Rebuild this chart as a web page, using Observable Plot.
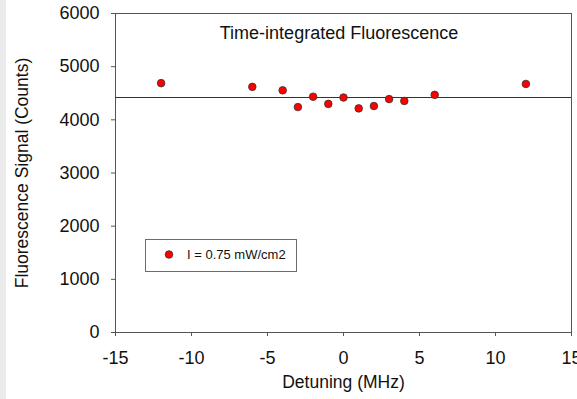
<!DOCTYPE html>
<html>
<head>
<meta charset="utf-8">
<script src="https://cdn.jsdelivr.net/npm/d3@7"></script>
<script src="https://cdn.jsdelivr.net/npm/@observablehq/plot@0.6"></script>
<style>
  html, body { margin: 0; padding: 0; background: #fff; }
  #wrap { position: relative; width: 577px; height: 399px; overflow: hidden; font-family: "Liberation Sans", Arial, sans-serif; }
  #strip { position: absolute; left: 0; top: 0; width: 6px; height: 399px; background: #ebebeb; }
  #legend { position: absolute; left: 145px; top: 239px; width: 150px; height: 31px; border: 1px solid #6b6b6b; background: #fff; box-sizing: content-box; }
  #legend svg { position: absolute; left: 0; top: 0; }
  #legend span { position: absolute; left: 41px; top: 7px; font-size: 13px; color: #111; white-space: nowrap; }
</style>
</head>
<body>
<div id="wrap"><div id="strip"></div></div>
<script>
const detuning = [-12, -6, -4, -3, -2, -1, 0, 1, 2, 3, 4, 6, 12];
const signal = [4690, 4620, 4555, 4240, 4435, 4300, 4420, 4215, 4260, 4390, 4355, 4470, 4675];
const meanLevel = 4420;
const xTicks = [-15, -10, -5, 0, 5, 10, 15];
const yTicks = [0, 1000, 2000, 3000, 4000, 5000, 6000];
const title = "Time-integrated Fluorescence";
const xLabel = "Detuning (MHz)";
const yLabel = "Fluorescence Signal (Counts)";
const seriesLabel = "I = 0.75 mW/cm2";

const data = detuning.map((d, i) => ({x: d, y: signal[i]}));

const chart = Plot.plot({
  width: 577,
  height: 399,
  marginLeft: 115,
  marginRight: 6,
  marginTop: 13,
  marginBottom: 67,
  style: {fontFamily: "'Liberation Sans', Arial, sans-serif", fontSize: "18px", background: "transparent", color: "#111"},
  x: {domain: [-15, 15]},
  y: {domain: [0, 6000]},
  marks: [
    Plot.frame({stroke: "#555", strokeWidth: 1}),
    Plot.axisX({ticks: xTicks, tickSize: 4, tickPadding: 15, label: null, stroke: "#555", tickFormat: d => d < 0 ? "-" + Math.abs(d) : String(d), fontSize: 18, fill: "#111"}),
    Plot.axisY({ticks: yTicks, tickSize: 4, tickPadding: 12, label: null, stroke: "#555", tickFormat: d => String(d), fontSize: 18, fill: "#111"}),
    Plot.ruleY([meanLevel], {stroke: "#333", strokeWidth: 1}),
    Plot.dot(data, {x: "x", y: "y", r: 3.8, fill: "#ff0000", stroke: "#333", strokeWidth: 0.8}),
    Plot.text([title], {frameAnchor: "top", dy: 12.5, dx: -4.5, fontSize: 18, fill: "#111"}),
    Plot.text([xLabel], {frameAnchor: "bottom", dy: 55, fontSize: 17.5, fill: "#111"}),
    Plot.text([yLabel], {frameAnchor: "left", textAnchor: "middle", lineAnchor: "middle", dx: -93, rotate: -90, fontSize: 17.5, fill: "#111"})
  ]
});
const wrap = document.getElementById("wrap");
chart.style.position = "absolute";
chart.style.left = "0";
chart.style.top = "0";
wrap.appendChild(chart);

const legend = document.createElement("div");
legend.id = "legend";
legend.innerHTML = `<svg width="150" height="31"><circle cx="23" cy="14.5" r="3.8" fill="#ff0000" stroke="#333" stroke-width="0.8"></circle></svg><span>${seriesLabel}</span>`;
wrap.appendChild(legend);
</script>
</body>
</html>
